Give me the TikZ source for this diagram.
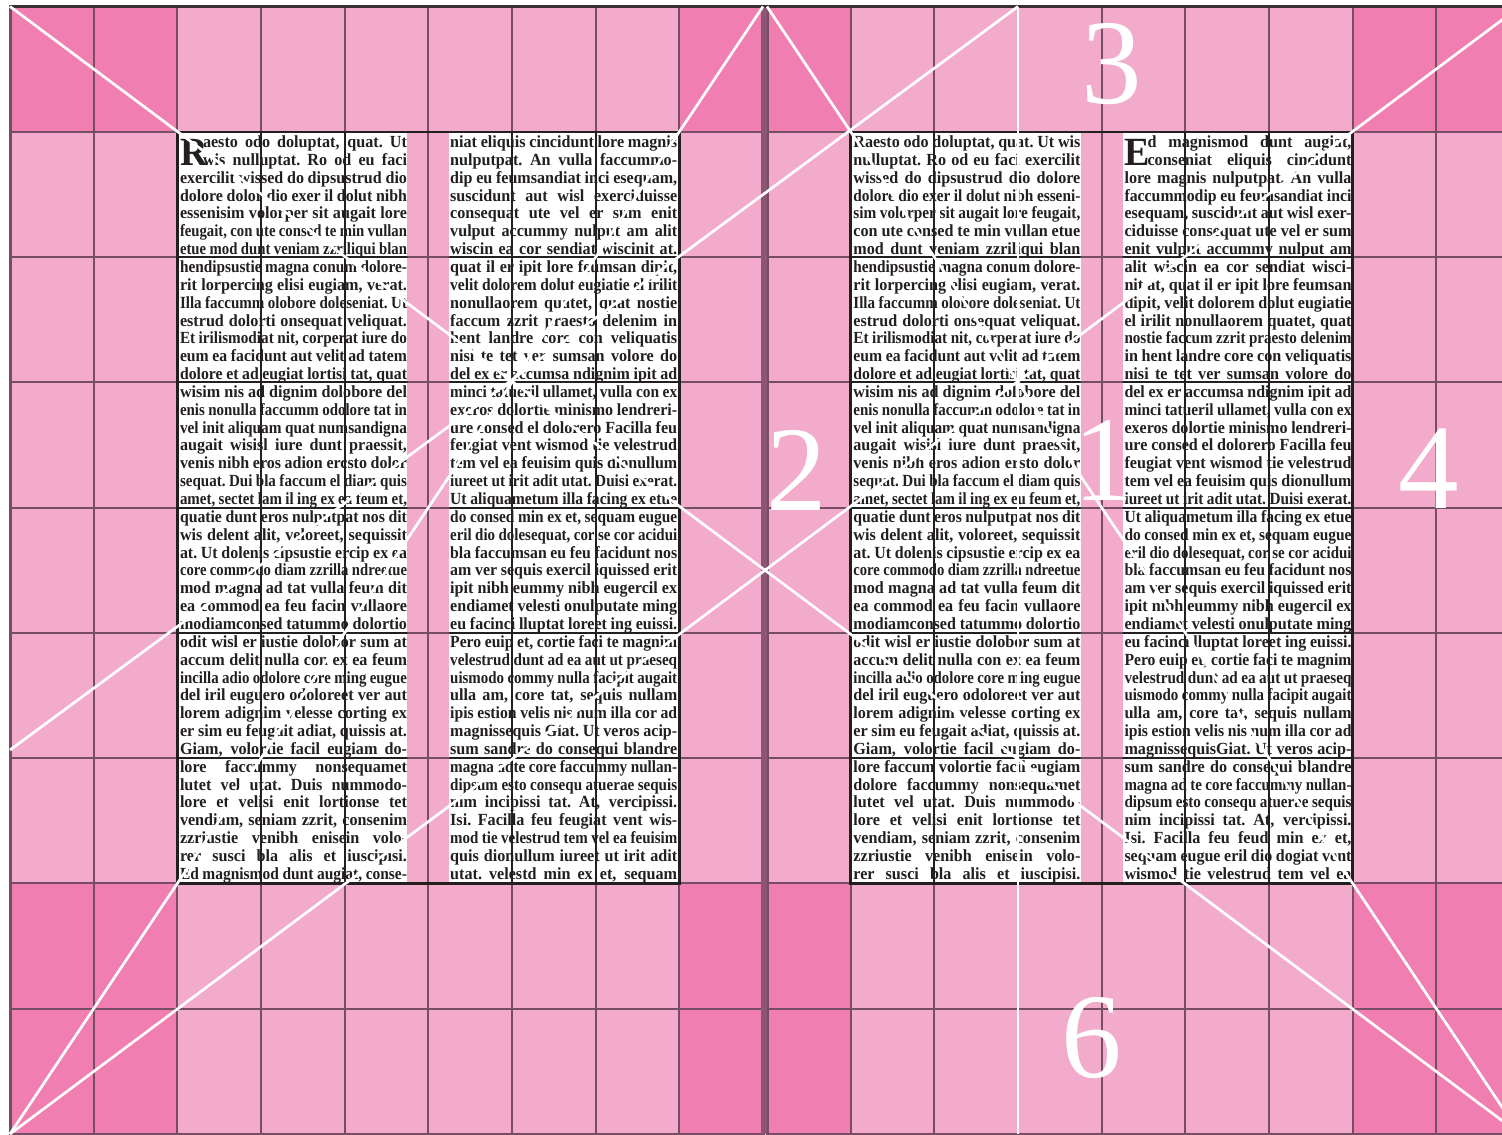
\documentclass[tikz,border=0pt]{standalone}
\usepackage{fontspec}
\usepackage{graphicx}
\setmainfont{Liberation Serif}
\newfontfamily\bodyfont[FakeStretch=0.95]{Liberation Serif}
\usetikzlibrary{calc}

\definecolor{pinklt}{RGB}{243,171,204}
\definecolor{pinkdk}{RGB}{240,126,176}
\definecolor{mauve}{RGB}{118,78,100}
\definecolor{spinec}{RGB}{138,86,115}
\definecolor{ink}{RGB}{35,31,32}
\definecolor{topln}{RGB}{55,48,52}

% type of the text columns
\newcommand\colfont{\bodyfont\bfseries\fontsize{17}{17.85}\selectfont}
% one justified line of a text column (squeezed when too long)
\newcommand\jl[1]{{\spaceskip=.22em plus 3em minus .05em\relax
  \xspaceskip=\spaceskip\relax
  \setbox0=\hbox{#1}%
  \ifdim\wd0>\linewidth
    \resizebox{\linewidth}{\height}{\box0}%
  \else
    \makebox[\linewidth][s]{#1}%
  \fi}}
% two-line initial
\newcommand\dcap[1]{\rlap{\smash{\raisebox{-17.85pt}{\fontsize{40}{40}\selectfont #1}}}}

\begin{document}
\begin{tikzpicture}[x=1pt, y=-1pt,
  lite/.style={fill=pinklt},
  dark/.style={fill=pinkdk},
  colbox/.style={fill=white},
  grd/.style={draw=mauve, line width=2pt},
  grdin/.style={draw=ink, line width=2pt},
  blockln/.style={draw=ink, line width=2.5pt},
  frame/.style={draw=mauve, line width=3pt},
  diag/.style={draw=white, line width=2.7pt},
  txt/.style={anchor=base west, inner sep=0pt, text width=227pt, text=ink,
              font=\colfont},
  num/.style={anchor=base, inner sep=0pt, text=white,
              font=\fontsize{121}{121}\selectfont}
]
\useasboundingbox (0,0) rectangle (1502,1135);
\clip (0,0) rectangle (1502,1135);

% ---- page corners of the construction
\coordinate (sTL) at (10,6.5);
\coordinate (sBL) at (10,1134);
\coordinate (sTR) at (1520,6.5);
\coordinate (sBR) at (1520,1134);
\coordinate (lTI) at (763,6.5);
\coordinate (rTI) at (767,6.5);
\coordinate (vT)  at (1018,6.5);
\coordinate (vB)  at (1018,1134);
\coordinate (lE)  at (10,750);

% ---- margins
\fill[lite] (10,6.5) rectangle (763,1134);
\fill[lite] (767,6.5) rectangle (1520,1134);
\fill[dark] (10,6.5) rectangle (177.33,131.8);
\fill[dark] (679.33,6.5) rectangle (763,131.8);
\fill[dark] (10,883.5) rectangle (177.33,1134);
\fill[dark] (679.33,883.5) rectangle (763,1134);
\fill[dark] (767,6.5) rectangle (850.67,131.8);
\fill[dark] (1352.67,6.5) rectangle (1520,131.8);
\fill[dark] (767,883.5) rectangle (850.67,1134);
\fill[dark] (1352.67,883.5) rectangle (1520,1134);

% ---- text columns
\fill[colbox] (177.33,131.8) rectangle (407.33,883.5);
\fill[colbox] (449.33,131.8) rectangle (679.33,883.5);
\fill[colbox] (850.67,131.8) rectangle (1080.67,883.5);
\fill[colbox] (1122.67,131.8) rectangle (1352.67,883.5);

% ---- left page, column 1
\node[txt] (lA) at (179.8,147.5) {%
\jl{\dcap{R}\hspace*{23pt}aesto odo doluptat, quat. Ut}\\
\jl{\hspace*{23pt}wis nulluptat. Ro od eu faci}\\
\jl{exercilit wissed do dipsustrud dio}\\
\jl{dolore dolor dio exer il dolut nibh}\\
\jl{essenisim volorper sit augait lore}\\
\jl{feugait, con ute consed te min vullan}\\
\jl{etue mod dunt veniam zzriliqui blan}\\
\jl{hendipsustie magna conum dolore-}\\
\jl{rit lorpercing elisi eugiam, verat.}\\
\jl{Illa faccumm olobore doleseniat. Ut}\\
\jl{estrud dolorti onsequat veliquat.}\\
\jl{Et irilismodiat nit, corperat iure do}\\
\jl{eum ea facidunt aut velit ad tatem}\\
\jl{dolore et ad eugiat lortisi tat, quat}\\
\jl{wisim nis ad dignim dolobore del}\\
\jl{enis nonulla faccumm odolore tat in}\\
\jl{vel init aliquam quat numsandigna}\\
\jl{augait wisisl iure dunt praessit,}\\
\jl{venis nibh eros adion ercsto dolor}\\
\jl{sequat. Dui bla faccum el diam quis}\\
\jl{amet, sectet lam il ing ex ea feum et,}\\
\jl{quatie dunt eros nulputpat nos dit}\\
\jl{wis delent alit, veloreet, sequissit}\\
\jl{at. Ut dolenis cipsustie ercip ex ea}\\
\jl{core commodo diam zzrilla ndreetue}\\
\jl{mod magna ad tat vulla feum dit}\\
\jl{ea commod ea feu facin vullaore}\\
\jl{modiamconsed tatummo dolortio}\\
\jl{odit wisl er iustie dolobor sum at}\\
\jl{accum delit nulla con ex ea feum}\\
\jl{incilla adio odolore core ming eugue}\\
\jl{del iril euguero odoloreet ver aut}\\
\jl{lorem adignim velesse corting ex}\\
\jl{er sim eu feugait adiat, quissis at.}\\
\jl{Giam, volortie facil eugiam do-}\\
\jl{lore faccummy nonsequamet}\\
\jl{lutet vel utat. Duis nummodo-}\\
\jl{lore et velisi enit lortionse tet}\\
\jl{vendiam, seniam zzrit, consenim}\\
\jl{zzriustie venibh enisein volo-}\\
\jl{rer susci bla alis et iuscipisi.}\\
\jl{Ed magnismod dunt augiat, conse-}};

% ---- left page, column 2
\node[txt] (lB) at (450,147.5) {%
\jl{niat eliquis cincidunt lore magnis}\\
\jl{nulputpat. An vulla faccummo-}\\
\jl{dip eu feumsandiat inci esequam,}\\
\jl{suscidunt aut wisl exerciduisse}\\
\jl{consequat ute vel er sum enit}\\
\jl{vulput accummy nulput am alit}\\
\jl{wiscin ea cor sendiat wiscinit at.}\\
\jl{quat il er ipit lore feumsan dipit,}\\
\jl{velit dolorem dolut eugiatie el irilit}\\
\jl{nonullaorem quatet, quat nostie}\\
\jl{faccum zzrit praesto delenim in}\\
\jl{hent landre core con veliquatis}\\
\jl{nisi te tet ver sumsan volore do}\\
\jl{del ex er accumsa ndignim ipit ad}\\
\jl{minci tatueril ullamet, vulla con ex}\\
\jl{exeros dolortie minismo lendreri-}\\
\jl{ure consed el dolorero Facilla feu}\\
\jl{feugiat vent wismod tie velestrud}\\
\jl{tem vel ea feuisim quis dionullum}\\
\jl{iureet ut irit adit utat. Duisi exerat.}\\
\jl{Ut aliquametum illa facing ex etue}\\
\jl{do consed min ex et, sequam eugue}\\
\jl{eril dio dolesequat, cor se cor acidui}\\
\jl{bla faccumsan eu feu facidunt nos}\\
\jl{am ver sequis exercil iquissed erit}\\
\jl{ipit nibh eummy nibh eugercil ex}\\
\jl{endiamet velesti onulputate ming}\\
\jl{eu facinci lluptat loreet ing euissi.}\\
\jl{Pero euip et, cortie faci te magnim}\\
\jl{velestrud dunt ad ea aut ut praeseq}\\
\jl{uismodo commy nulla facipit augait}\\
\jl{ulla am, core tat, sequis nullam}\\
\jl{ipis estion velis nis num illa cor ad}\\
\jl{magnissequis Giat. Ut veros acip-}\\
\jl{sum sandre do consequi blandre}\\
\jl{magna adte core faccummy nullan-}\\
\jl{dipsum esto consequ atuerae sequis}\\
\jl{nim incipissi tat. At, vercipissi.}\\
\jl{Isi. Facilla feu feugiat vent wis-}\\
\jl{mod tie velestrud tem vel ea feuisim}\\
\jl{quis dionullum iureet ut irit adit}\\
\jl{utat. velestd min ex et, sequam}};

% ---- right page, column 1
\node[txt] (rA) at (853.2,147.5) {%
\jl{Raesto odo doluptat, quat. Ut wis}\\
\jl{nulluptat. Ro od eu faci exercilit}\\
\jl{wissed do dipsustrud dio dolore}\\
\jl{dolore dio exer il dolut nibh esseni-}\\
\jl{sim volorper sit augait lore feugait,}\\
\jl{con ute consed te min vullan etue}\\
\jl{mod dunt veniam zzriliqui blan}\\
\jl{hendipsustie magna conum dolore-}\\
\jl{rit lorpercing elisi eugiam, verat.}\\
\jl{Illa faccumm olobore doleseniat. Ut}\\
\jl{estrud dolorti onsequat veliquat.}\\
\jl{Et irilismodiat nit, corperat iure do}\\
\jl{eum ea facidunt aut velit ad tatem}\\
\jl{dolore et ad eugiat lortisi tat, quat}\\
\jl{wisim nis ad dignim dolobore del}\\
\jl{enis nonulla faccumm odolore tat in}\\
\jl{vel init aliquam quat numsandigna}\\
\jl{augait wisisl iure dunt praessit,}\\
\jl{venis nibh eros adion ersto dolor}\\
\jl{sequat. Dui bla faccum el diam quis}\\
\jl{amet, sectet lam il ing ex eu feum et,}\\
\jl{quatie dunt eros nulputpat nos dit}\\
\jl{wis delent alit, voloreet, sequissit}\\
\jl{at. Ut dolenis cipsustie ercip ex ea}\\
\jl{core commodo diam zzrilla ndreetue}\\
\jl{mod magna ad tat vulla feum dit}\\
\jl{ea commod ea feu facin vullaore}\\
\jl{modiamconsed tatummo dolortio}\\
\jl{odit wisl er iustie dolobor sum at}\\
\jl{accum delit nulla con ex ea feum}\\
\jl{incilla adio odolore core ming eugue}\\
\jl{del iril euguero odoloreet ver aut}\\
\jl{lorem adignim velesse corting ex}\\
\jl{er sim eu feugait adiat, quissis at.}\\
\jl{Giam, volortie facil eugiam do-}\\
\jl{lore faccum volortie facil eugiam}\\
\jl{dolore faccummy nonsequamet}\\
\jl{lutet vel utat. Duis nummodo-}\\
\jl{lore et velisi enit lortionse tet}\\
\jl{vendiam, seniam zzrit, consenim}\\
\jl{zzriustie venibh enisein volo-}\\
\jl{rer susci bla alis et iuscipisi.}};

% ---- right page, column 2
\node[txt] (rB) at (1124.3,147.5) {%
\jl{\dcap{E}\hspace*{23pt}d magnismod dunt augiat,}\\
\jl{\hspace*{23pt}conseniat eliquis cincidunt}\\
\jl{lore magnis nulputpat. An vulla}\\
\jl{faccummodip eu feumsandiat inci}\\
\jl{esequam, suscidunt aut wisl exer-}\\
\jl{ciduisse consequat ute vel er sum}\\
\jl{enit vulput accummy nulput am}\\
\jl{alit wiscin ea cor sendiat wisci-}\\
\jl{nit at, quat il er ipit lore feumsan}\\
\jl{dipit, velit dolorem dolut eugiatie}\\
\jl{el irilit nonullaorem quatet, quat}\\
\jl{nostie faccum zzrit praesto delenim}\\
\jl{in hent landre core con veliquatis}\\
\jl{nisi te tet ver sumsan volore do}\\
\jl{del ex er accumsa ndignim ipit ad}\\
\jl{minci tatueril ullamet, vulla con ex}\\
\jl{exeros dolortie minismo lendreri-}\\
\jl{ure consed el dolorero Facilla feu}\\
\jl{feugiat vent wismod tie velestrud}\\
\jl{tem vel ea feuisim quis dionullum}\\
\jl{iureet ut irit adit utat. Duisi exerat.}\\
\jl{Ut aliquametum illa facing ex etue}\\
\jl{do consed min ex et, sequam eugue}\\
\jl{eril dio dolesequat, cor se cor acidui}\\
\jl{bla faccumsan eu feu facidunt nos}\\
\jl{am ver sequis exercil iquissed erit}\\
\jl{ipit nibh eummy nibh eugercil ex}\\
\jl{endiamet velesti onulputate ming}\\
\jl{eu facinci lluptat loreet ing euissi.}\\
\jl{Pero euip et, cortie faci te magnim}\\
\jl{velestrud dunt ad ea aut ut praeseq}\\
\jl{uismodo commy nulla facipit augait}\\
\jl{ulla am, core tat, sequis nullam}\\
\jl{ipis estion velis nis num illa cor ad}\\
\jl{magnissequisGiat. Ut veros acip-}\\
\jl{sum sandre do consequi blandre}\\
\jl{magna ad te core faccummy nullan-}\\
\jl{dipsum esto consequ atuerae sequis}\\
\jl{nim incipissi tat. At, vercipissi.}\\
\jl{Isi. Facilla feu feud min ex et,}\\
\jl{sequam eugue eril dio dogiat vent}\\
\jl{wismod tie velestrud tem vel ea}};

% ---- 9 x 9 grid on each page
\foreach \i in {1,...,8} {
  \draw[grd] ({10+83.667*\i},6.5) -- ({10+83.667*\i},1134);
  \draw[grd] ({767+83.667*\i},6.5) -- ({767+83.667*\i},1134);
}
\foreach \j in {1,...,8}
  \draw[grd] (10,{6.5+125.28*\j}) -- (1520,{6.5+125.28*\j});

% grid seen through the text columns
\begin{scope}
  \clip (177.33,131.8) rectangle (407.33,883.5)
        (449.33,131.8) rectangle (679.33,883.5)
        (850.67,131.8) rectangle (1080.67,883.5)
        (1122.67,131.8) rectangle (1352.67,883.5);
  \foreach \i in {1,...,8} {
    \draw[grdin] ({10+83.667*\i},6.5) -- ({10+83.667*\i},1134);
    \draw[grdin] ({767+83.667*\i},6.5) -- ({767+83.667*\i},1134);
  }
  \foreach \j in {1,...,8}
    \draw[grdin] (10,{6.5+125.28*\j}) -- (1520,{6.5+125.28*\j});
\end{scope}

% ---- text blocks, pages, spine
\draw[blockln] (177.33,131.8) rectangle (679.33,883.5);
\draw[blockln] (850.67,131.8) rectangle (1352.67,883.5);
\draw[frame] (sTL) rectangle (lTI |- sBL);
\draw[frame] (rTI) rectangle (sBR);
\fill[spinec] (760.7,6.5) rectangle (767.3,1134);
\draw[topln, line width=3pt] (sTL) -- (sTR);

% ---- the construction lines
\draw[diag] (sTL) -- (sBR);
\draw[diag] (sBL) -- (sTR);
\draw[diag] (sBL) -- (lTI);
\draw[diag] (rTI) -- (sBR);
\draw[diag] (vT) -- (vB);
\draw[diag] (vT) -- (lE);

% ---- step numbers
\node[num] (n3) at (1112,103) {3};
\node[num] (n2) at (797,510) {2};
\node[num] (n1) at (1104,500) {1};
\node[num] (n4) at (1429,508) {4};
\node[num] (n6) at (1091.5,1077) {6};
\end{tikzpicture}
\end{document}
